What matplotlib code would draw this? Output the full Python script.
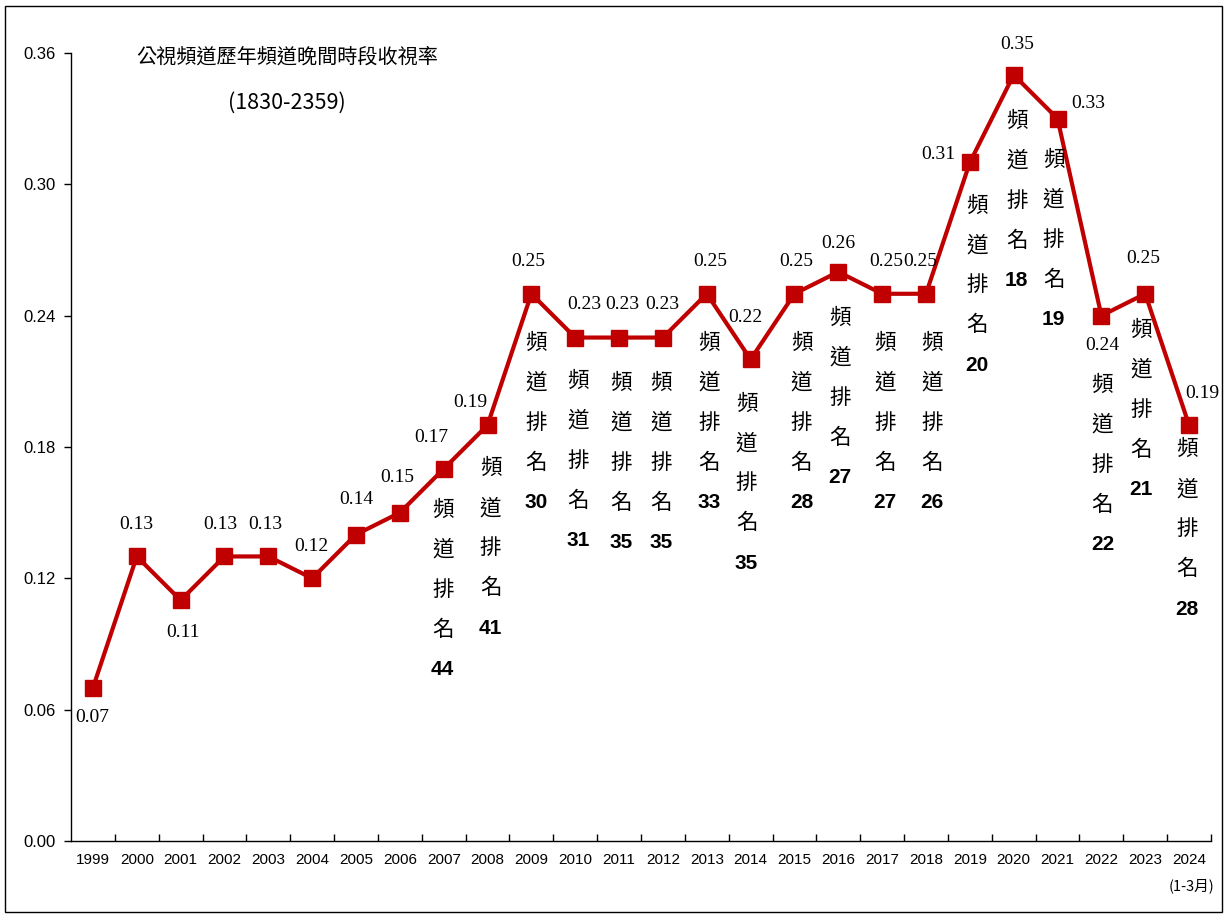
import matplotlib
matplotlib.use("Agg")
import matplotlib.pyplot as plt
from matplotlib.patches import Rectangle

# data
years = [str(y) for y in range(1999, 2025)]
ratings = [0.07, 0.13, 0.11, 0.13, 0.13, 0.12, 0.14, 0.15, 0.17, 0.19,
           0.25, 0.23, 0.23, 0.23, 0.25, 0.22, 0.25, 0.26, 0.25, 0.25,
           0.31, 0.35, 0.33, 0.24, 0.25, 0.19]
rank_years = [str(y) for y in range(2007, 2025)]
ranks = [44, 41, 30, 31, 35, 35, 33, 35, 28, 27, 27, 26, 20, 18, 19, 22, 21, 28]
y_ticks = [0.00, 0.06, 0.12, 0.18, 0.24, 0.30, 0.36]
title = "公視頻道歷年頻道晚間時段收視率"
subtitle = "(1830-2359)"
last_note = "(1-3月)"
rank_chars = ["頻", "道", "排", "名"]

# label placement (pixels)
value_offsets = [(-1, -30), (0, 32), (2, -32), (-4, 32), (-3, 32), (-1, 32),
                 (0, 35), (-3, 35), (-12, 31), (-17, 23), (-3, 32), (9, 33),
                 (3, 33), (-1, 33), (3, 32), (-5, 42), (2, 32), (0, 28),
                 (4, 32), (-6, 32), (-32, 8), (3, 30), (31, 15), (1, -30),
                 (-2, 35), (13, 32)]
rank_offsets = [(-1, -41), (3, -43), (5, -49), (3, -43), (2, -45), (-2, -45),
                (2, -49), (-4, -44), (7, -49), (2, -46), (3, -49), (6, -49),
                (7, -43), (3, -46), (-4, -41), (1, -69), (-4, -36), (-2, -24)]

RED = "#C00000"
CJK = ["Noto Sans CJK TC", "DejaVu Sans"]


def main():
    fig = plt.figure(figsize=(12.24, 9.17), dpi=100)
    ax = fig.add_axes([71 / 1224, 76 / 917, 1140 / 1224, 788 / 917])

    x = list(range(len(years)))
    ax.plot(x, ratings, color=RED, lw=3, marker="s", markersize=12,
            markerfacecolor=RED, markeredgecolor=RED, zorder=3)

    ax.set_xlim(-0.5, len(years) - 0.5)
    ax.set_ylim(0, 0.36)
    ax.set_yticks(y_ticks)
    ax.set_yticklabels([f"{v:.2f}" for v in y_ticks],
                       family="Liberation Sans", fontsize=12)
    ax.tick_params(axis="y", direction="out", length=5, width=1, pad=6)
    ax.set_xticks(x)
    ax.set_xticklabels(years, family="Liberation Sans", fontsize=11)
    ax.set_xticks([i + 0.5 for i in x], minor=True)
    ax.tick_params(axis="x", which="major", length=0, pad=9)
    ax.tick_params(axis="x", which="minor", direction="in", length=5, width=1)
    for s in ["top", "right"]:
        ax.spines[s].set_visible(False)
    ax.spines["left"].set_linewidth(1)
    ax.spines["bottom"].set_linewidth(1)

    # value labels
    for i, v in enumerate(ratings):
        dx, dy = value_offsets[i]
        ax.annotate(f"{v:.2f}", (i, v), xytext=(dx, dy),
                    textcoords="offset pixels", ha="center", va="center",
                    family="Liberation Serif", fontsize=14)

    # vertical rank labels
    for j, yr in enumerate(rank_years):
        i = years.index(yr)
        dx, dy = rank_offsets[j]
        for k, ch in enumerate(rank_chars):
            ax.annotate(ch, (i, ratings[i]), xytext=(dx, dy - 40 * k),
                        textcoords="offset pixels", ha="center", va="center",
                        family=CJK, fontsize=15.5)
        ax.annotate(str(ranks[j]), (i, ratings[i]), xytext=(dx, dy - 160),
                    textcoords="offset pixels", ha="center", va="center",
                    family="Liberation Sans", fontweight="bold", fontsize=15)

    fig.text(287 / 1224, 1 - 57 / 917, title, family=CJK, fontsize=14.5,
             ha="center", va="center")
    fig.text(287 / 1224, 1 - 103 / 917, subtitle, family=CJK, fontsize=15.5,
             ha="center", va="center")
    fig.text(1191 / 1224, 1 - 886 / 917, last_note, family=CJK, fontsize=10.5,
             ha="center", va="center")

    fig.patches.append(Rectangle((5 / 1224, 5 / 917), 1217 / 1224, 906 / 917,
                                 transform=fig.transFigure, fill=False,
                                 edgecolor="black", lw=1))

    fig.savefig("out.png", dpi=100)


if __name__ == "__main__":
    main()
